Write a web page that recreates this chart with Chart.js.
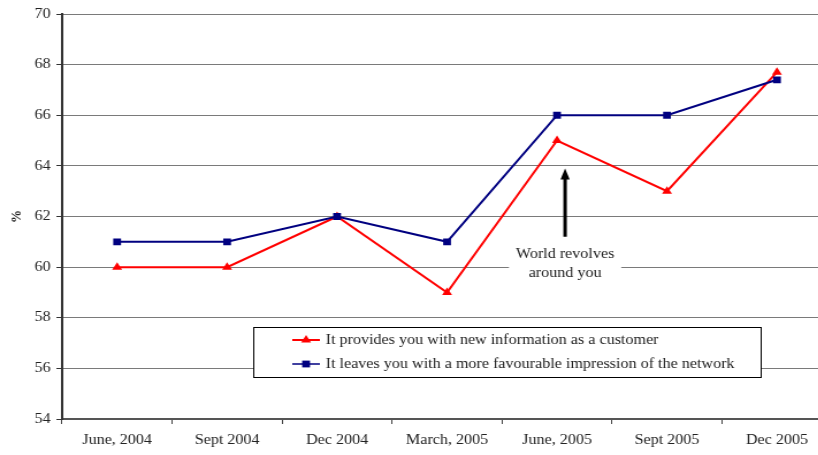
<!DOCTYPE html>
<html>
<head>
<meta charset="utf-8">
<script src="https://cdn.jsdelivr.net/npm/chart.js@4/dist/chart.umd.min.js"></script>
<style>
  html, body { margin: 0; padding: 0; background: #fff; overflow: hidden; }
  /* chart is drawn a bit narrow, then widened to the page */
  #wrap { position: relative; width: 730px; height: 455px; transform: scaleX(1.1507); transform-origin: 0 0; }
</style>
</head>
<body>
<div id="wrap"><canvas id="chart"></canvas></div>
<script>
const quarters = ["June, 2004", "Sept 2004", "Dec 2004", "March, 2005", "June, 2005", "Sept 2005", "Dec 2005"];
const newInfo = [60, 60, 62, 59, 65, 63, 67.7];
const favourable = [61, 61, 62, 61, 66, 66, 67.4];
const yTicks = [54, 56, 58, 60, 62, 64, 66, 68, 70];
const seriesNames = [
  "It provides you with new information as a customer",
  "It leaves you with a more favourable impression of the network"
];
const noteLines = ["World revolves", "around you"];

const FONT = '"Liberation Serif", "Times New Roman", serif';

function marker(ctx, kind, x, y, color) {
  ctx.fillStyle = color;
  ctx.beginPath();
  if (kind === 'triangle') {
    ctx.moveTo(x, y - 5);
    ctx.lineTo(x + 4.3, y + 2.5);
    ctx.lineTo(x - 4.3, y + 2.5);
    ctx.closePath();
  } else {
    ctx.rect(x - 3.4, y - 3.4, 6.8, 6.8);
  }
  ctx.fill();
}

// arrow note, legend box and the "%" axis title
const extras = {
  id: 'extras',
  afterDraw(chart) {
    const { ctx, chartArea: a, scales: { x, y } } = chart;
    ctx.save();

    // arrow pointing up at June 2005
    const ax = x.getPixelForValue(4) + 7;
    const tipY = y.getPixelForValue(63.9);
    const tailY = y.getPixelForValue(61.2);
    ctx.strokeStyle = '#000';
    ctx.lineWidth = 3;
    ctx.beginPath();
    ctx.moveTo(ax, tailY);
    ctx.lineTo(ax, tipY + 8);
    ctx.stroke();
    ctx.fillStyle = '#000';
    ctx.beginPath();
    ctx.moveTo(ax, tipY);
    ctx.lineTo(ax - 4, tipY + 11);
    ctx.lineTo(ax + 4, tipY + 11);
    ctx.closePath();
    ctx.fill();

    ctx.font = '14px ' + FONT;
    ctx.textAlign = 'center';
    ctx.textBaseline = 'middle';
    const l1 = tailY + 18, l2 = l1 + 19;
    const w = Math.max(...noteLines.map(t => ctx.measureText(t).width)) + 12;
    ctx.fillStyle = '#fff';
    ctx.fillRect(ax - w / 2, l1 - 11, w, l2 - l1 + 22);
    ctx.fillStyle = '#222';
    ctx.fillText(noteLines[0], ax, l1);
    ctx.fillText(noteLines[1], ax, l2);

    // legend box
    const bx = a.left + 166, by = 327, bw = 441, bh = 50;
    ctx.fillStyle = '#fff';
    ctx.fillRect(bx, by, bw, bh);
    ctx.strokeStyle = '#000';
    ctx.lineWidth = 1;
    ctx.strokeRect(bx + 0.5, by + 0.5, bw, bh);
    const rows = [
      { label: seriesNames[0], color: '#ff0000', kind: 'triangle', y: by + 13, lw: 2 },
      { label: seriesNames[1], color: '#000080', kind: 'rect', y: by + 37, lw: 1.5 }
    ];
    ctx.textAlign = 'left';
    rows.forEach(r => {
      ctx.strokeStyle = r.color;
      ctx.lineWidth = r.lw;
      ctx.beginPath();
      ctx.moveTo(bx + 34, r.y);
      ctx.lineTo(bx + 58, r.y);
      ctx.stroke();
      marker(ctx, r.kind, bx + 46, r.y, r.color);
      ctx.fillStyle = '#222';
      ctx.fillText(r.label, bx + 63, r.y);
    });

    // y axis title
    ctx.translate(15, (a.top + a.bottom) / 2);
    ctx.rotate(-Math.PI / 2);
    ctx.textAlign = 'center';
    ctx.font = 'bold 13px ' + FONT;
    ctx.fillStyle = '#222';
    ctx.fillText('%', 0, 0);
    ctx.restore();
  }
};

new Chart(document.getElementById('chart'), {
  type: 'line',
  data: {
    labels: quarters,
    datasets: [
      {
        label: seriesNames[0],
        data: newInfo,
        borderColor: '#ff0000',
        backgroundColor: '#ff0000',
        borderWidth: 2,
        pointStyle: 'triangle',
        pointRadius: 5,
        pointBorderWidth: 0,
        tension: 0,
        order: 1
      },
      {
        label: seriesNames[1],
        data: favourable,
        borderColor: '#000080',
        backgroundColor: '#000080',
        borderWidth: 2,
        pointStyle: 'rect',
        pointRadius: 4.8,
        pointBorderWidth: 0,
        tension: 0,
        order: 0
      }
    ]
  },
  options: {
    responsive: true,
    maintainAspectRatio: false,
    animation: false,
    layout: { padding: { top: 14, right: 7, left: 0, bottom: 0 } },
    plugins: {
      legend: { display: false },
      tooltip: { enabled: false }
    },
    scales: {
      x: {
        offset: true,
        afterFit: s => { s.height = 36; },
        border: { color: '#555', width: 2 },
        grid: { offset: true, drawOnChartArea: false, tickLength: 5, color: '#444' },
        ticks: { color: '#222', font: { family: FONT, size: 14 }, padding: 8, maxRotation: 0, autoSkip: false }
      },
      y: {
        min: 54,
        max: 70,
        afterBuildTicks: s => { s.ticks = yTicks.map(v => ({ value: v })); },
        afterFit: s => { s.width = 54; },
        border: { color: '#333', width: 2 },
        grid: { color: '#7a7a7a', lineWidth: 1, tickLength: 5, tickColor: '#333' },
        ticks: { color: '#222', font: { family: FONT, size: 14 }, padding: 5 }
      }
    }
  },
  plugins: [extras]
});
</script>
</body>
</html>
